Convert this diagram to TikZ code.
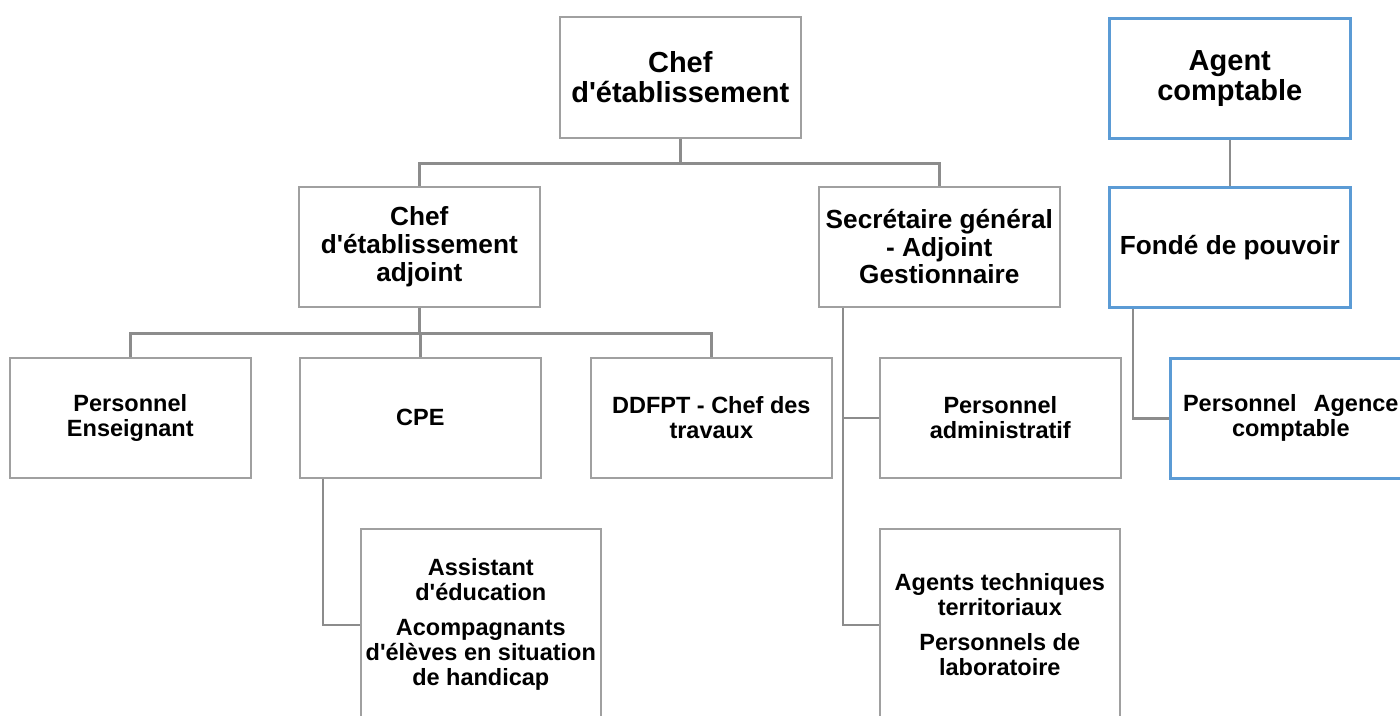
\documentclass[tikz,border=0pt]{standalone}
\usepackage{fontspec}
\usetikzlibrary{calc}
\setmainfont{Liberation Sans}
\newcommand{\apos}{\textquotesingle}
\definecolor{linegray}{HTML}{8C8C8C}
\definecolor{boxgray}{HTML}{A0A0A0}
\definecolor{boxblue}{HTML}{5B9BD5}
\tikzset{
  orgbox/.style={draw=boxgray, line width=1.6pt, fill=white, anchor=north west,
    minimum width=241pt, minimum height=120pt, inner sep=0pt, align=center,
    font=\bfseries\fontsize{23.5}{25}\selectfont},
  lvltop/.style={font=\bfseries\fontsize{29}{29.5}\selectfont},
  lvltwo/.style={font=\bfseries\fontsize{26.2}{27.7}\selectfont},
  bluebox/.style={draw=boxblue, line width=2.6pt},
  conn/.style={draw=linegray, line width=2.6pt}
}
\begin{document}
\begin{tikzpicture}[x=1pt,y=-1pt]
\useasboundingbox (0,0) rectangle (1400,715);
\clip (0,0) rectangle (1400,715);
\fill[white] (0,0) rectangle (1400,715);
% nodes
\node[orgbox,lvltop, minimum height=121pt] (chef) at (559,16) {Chef\\d\apos établissement};
\node[orgbox,lvltop,bluebox, minimum height=120pt] (ac) at (1108,17) {Agent\\comptable};
\node[orgbox,lvltwo] (adj) at (298,186) {Chef\\d\apos établissement\\adjoint};
\node[orgbox,lvltwo] (sg) at (818,186) {Secrétaire général\\- Adjoint\\Gestionnaire};
\node[orgbox,lvltwo,bluebox] (fonde) at (1108,186) {Fondé de pouvoir};
\node[orgbox] (ens) at (9,357) {Personnel\\Enseignant};
\node[orgbox] (cpe) at (299,357) {CPE};
\node[orgbox] (ddfpt) at (590,357) {DDFPT - Chef des\\travaux};
\node[orgbox] (adm) at (879,357) {Personnel\\administratif};
\node[orgbox,bluebox] (pag) at (1169,357) {Personnel\hspace{17pt}Agence\\comptable};
\node[orgbox, minimum width=240pt, minimum height=192pt] (asst) at (360,528)
  {Assistant\\d\apos éducation\\[10pt]Acompagnants\\d\apos élèves en situation\\de handicap};
\node[orgbox, minimum width=240pt, minimum height=192pt] (agt) at (879,528)
  {Agents techniques\\territoriaux\\[10pt]Personnels de\\laboratoire};
% connectors
\coordinate (chefbar) at ($(chef.south)+(0,25)$);
\draw[conn] (chef.south) -- (chefbar);
\draw[conn] (chefbar) -| (adj.north);
\draw[conn] (chefbar) -| (sg.north);
\draw[conn] (ac.south) -- (fonde.north);
\coordinate (adjbar) at ($(adj.south)+(0,26)$);
\draw[conn] (adj.south) -- (adjbar);
\draw[conn] (adjbar) -| (ens.north);
\draw[conn] (adjbar) -| (cpe.north);
\draw[conn] (adjbar) -| (ddfpt.north);
\coordinate (cpestem) at ($(cpe.south west)+(24,0)$);
\draw[conn] (cpestem) |- (asst.west);
\coordinate (sgstem) at ($(sg.south west)+(25,0)$);
\draw[conn] (sgstem) |- (agt.west);
\draw[conn] (sgstem |- adm.west) -- (adm.west);
\coordinate (fstem) at ($(fonde.south west)+(25,0)$);
\draw[conn] (fstem) |- (pag.west);
\end{tikzpicture}
\end{document}
